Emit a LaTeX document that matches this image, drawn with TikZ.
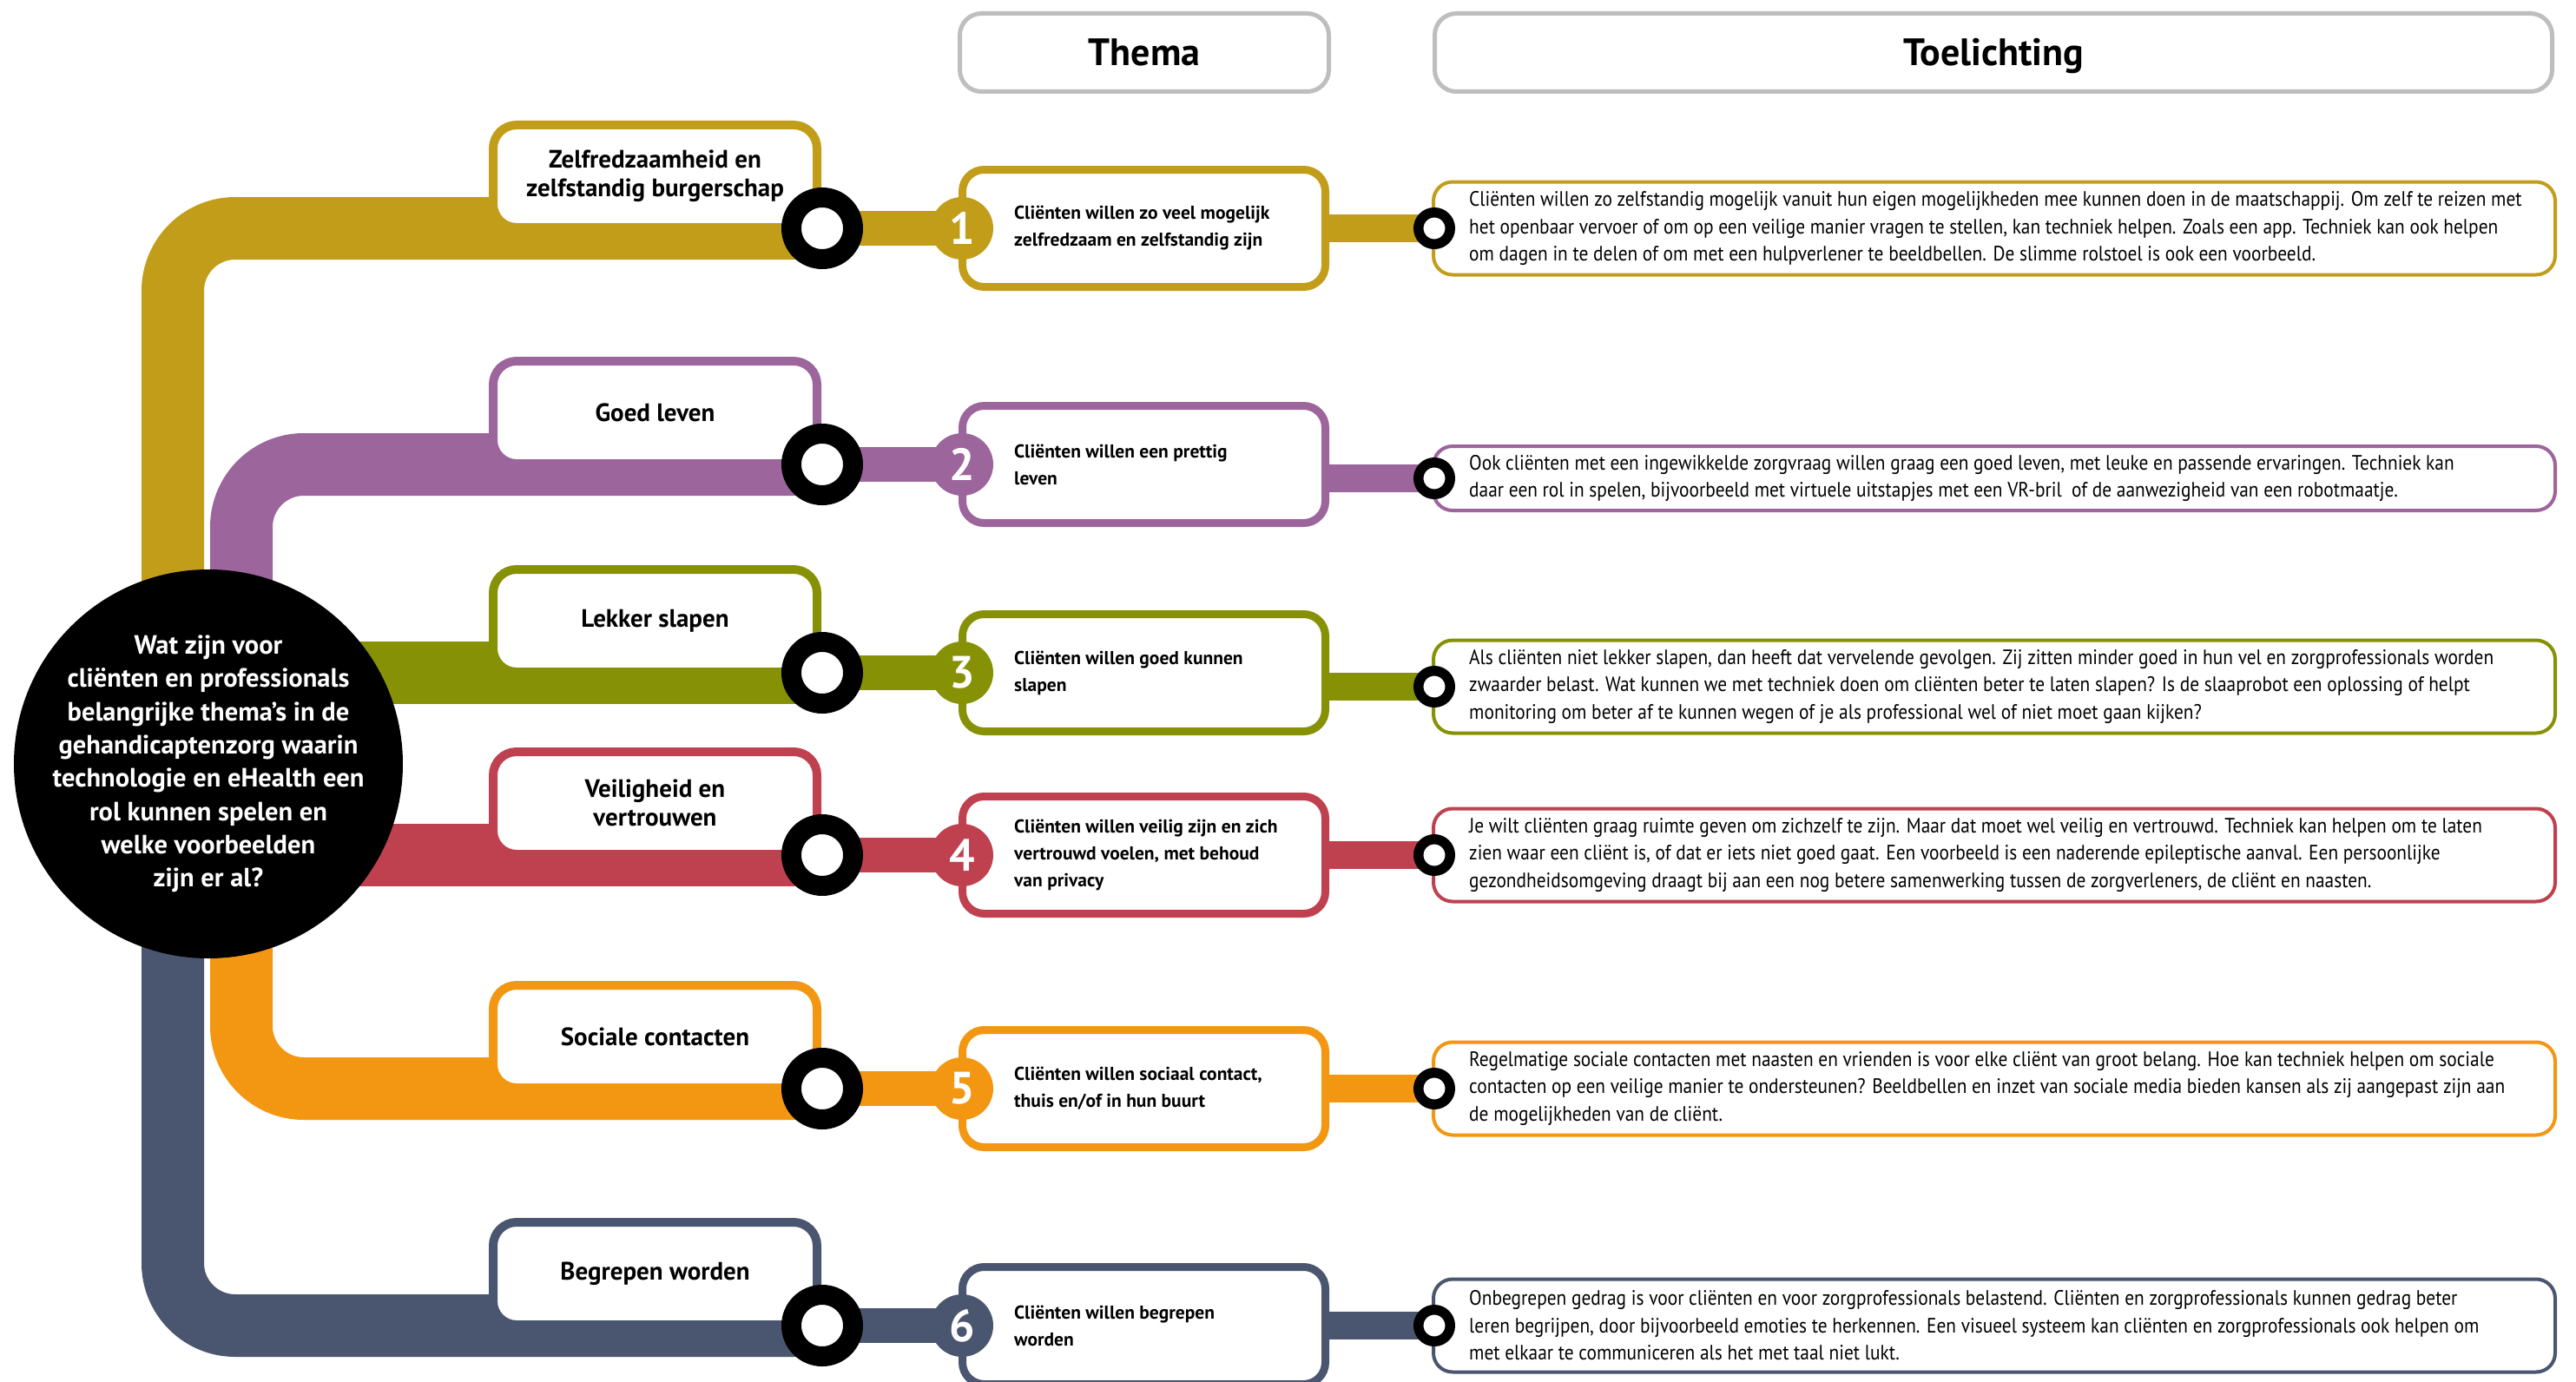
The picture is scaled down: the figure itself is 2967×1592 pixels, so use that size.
\documentclass[tikz,border=0pt]{standalone}
\usepackage{fontspec}
\setmainfont{PT Sans}[UprightFeatures={FakeStretch=0.89}]
\usetikzlibrary{backgrounds}
\definecolor{lijnGeel}{RGB}{194,157,26}
\definecolor{lijnPaars}{RGB}{156,101,156}
\definecolor{lijnOlijf}{RGB}{135,145,6}
\definecolor{lijnRood}{RGB}{191,65,80}
\definecolor{lijnOranje}{RGB}{243,150,18}
\definecolor{lijnBlauw}{RGB}{74,86,111}
\definecolor{kopGrijs}{RGB}{190,190,190}

\begin{document}
\begin{tikzpicture}[
  x=1pt, y=-1pt,
  rail/.style={line width=72pt, rounded corners=72pt},
  koppel/.style={line width=40pt},
  staart/.style={line width=32pt},
  vraag/.style={circle, fill=black, minimum size=448pt, inner sep=0pt},
  vraagtekst/.style={text=white, align=center, inner sep=0pt,
                     font=\bfseries\fontsize{30.5}{38.3}\selectfont},
  bordje/.style={draw, line width=10pt, fill=white, rounded corners=27pt, minimum width=373pt,
                 minimum height=118pt, outer sep=0pt, align=center,
                 font=\bfseries\fontsize{29}{33}\selectfont},
  halte/.style={circle, draw=black, line width=23pt, fill=white, minimum size=71pt, inner sep=0pt},
  nummer/.style={circle, minimum size=72pt, inner sep=0pt, text=white,
                 font=\bfseries\fontsize{52}{52}\selectfont},
  thema/.style={draw, line width=9pt, fill=white, rounded corners=25pt, minimum width=418pt,
                minimum height=135pt, outer sep=0pt},
  themtekst/.style={anchor=west, inner sep=0pt, align=left, font=\bfseries\fontsize{21.5}{31}\selectfont},
  stip/.style={circle, draw=black, line width=11.5pt, fill=white, minimum size=36.5pt, inner sep=0pt},
  uitleg/.style={draw, line width=4pt, fill=white, rounded corners=22pt, minimum width=1292pt,
                 minimum height=107pt, outer sep=0pt},
  uitlegtekst/.style={anchor=west, inner sep=0pt, align=left, font=\fontsize{24}{31.5}\selectfont},
  kop/.style={draw=kopGrijs, line width=5pt, fill=white, rounded corners=25pt, minimum height=90pt,
              text height=31pt, text depth=0pt, font=\bfseries\fontsize{44}{44}\selectfont}
]
\useasboundingbox (0,0) rectangle (2967,1592);

% ---- koppen ----
\node[kop, minimum width=425pt]  (kopThema) at (1318,60.5) {Thema};
\node[kop, minimum width=1287pt] (kopToel)  at (2296,60.5) {Toelichting};

% ---- de vraag in het midden ----
\node[vraag] (vraag) at (240,880) {};
\node[vraagtekst] (vraagtekst) at (vraag.center)
     {Wat zijn voor\\cliënten en professionals\\belangrijke thema’s in de\\gehandicaptenzorg waarin\\
      technologie en eHealth een\\rol kunnen spelen en\\welke voorbeelden\\zijn er al?};
\coordinate (spoorL) at (199,880);
\coordinate (spoorR) at (278,880);

% ---- 1 : zelfredzaamheid ----
\node[bordje, draw=lijnGeel] (bord1) at (754.5,203) {Zelfredzaamheid en\\zelfstandig burgerschap};
\node[halte] (halte1) at (947,263) {};
\node[thema, draw=lijnGeel] (th1) at (1317.5,263) {};
\node[nummer, fill=lijnGeel] (nr1) at (1108,263) {1};
\node[themtekst] (th1t) at ([xshift=59.5pt]th1.west) {Cliënten willen zo veel mogelijk\\zelfredzaam en zelfstandig zijn};
\node[uitleg, draw=lijnGeel] (tl1) at (2297,263) {};
\node[stip] (stip1) at (1652,263) {};
\node[uitlegtekst] (tl1t) at ([xshift=41pt]tl1.west)
     {Cliënten willen zo zelfstandig mogelijk vanuit hun eigen mogelijkheden mee kunnen doen in de maatschappij. Om zelf te reizen met\\
      het openbaar vervoer of om op een veilige manier vragen te stellen, kan techniek helpen. Zoals een app. Techniek kan ook helpen\\
      om dagen in te delen of om met een hulpverlener te beeldbellen. De slimme rolstoel is ook een voorbeeld.};

% ---- 2 : goed leven ----
\node[bordje, draw=lijnPaars] (bord2) at (754.5,475) {Goed leven};
\node[halte] (halte2) at (947,535) {};
\node[thema, draw=lijnPaars] (th2) at (1317.5,535) {};
\node[nummer, fill=lijnPaars] (nr2) at (1108,535) {2};
\node[themtekst] (th2t) at ([xshift=59.5pt]th2.west) {Cliënten willen een prettig\\leven};
\node[uitleg, draw=lijnPaars, minimum height=74pt] (tl2) at (2297,551) {};
\node[stip] (stip2) at (1652,551) {};
\node[uitlegtekst] (tl2t) at ([xshift=41pt]tl2.west)
     {Ook cliënten met een ingewikkelde zorgvraag willen graag een goed leven, met leuke en passende ervaringen. Techniek kan\\
      daar een rol in spelen, bijvoorbeeld met virtuele uitstapjes met een VR-bril~ of de aanwezigheid van een robotmaatje.};

% ---- 3 : lekker slapen ----
\node[bordje, draw=lijnOlijf] (bord3) at (754.5,715) {Lekker slapen};
\node[halte] (halte3) at (947,775) {};
\node[thema, draw=lijnOlijf] (th3) at (1317.5,775) {};
\node[nummer, fill=lijnOlijf] (nr3) at (1108,775) {3};
\node[themtekst] (th3t) at ([xshift=59.5pt]th3.west) {Cliënten willen goed kunnen\\slapen};
\node[uitleg, draw=lijnOlijf] (tl3) at (2297,791) {};
\node[stip] (stip3) at (1652,791) {};
\node[uitlegtekst] (tl3t) at ([xshift=41pt]tl3.west)
     {Als cliënten niet lekker slapen, dan heeft dat vervelende gevolgen. Zij zitten minder goed in hun vel en zorgprofessionals worden\\
      zwaarder belast. Wat kunnen we met techniek doen om cliënten beter te laten slapen? Is de slaaprobot een oplossing of helpt\\
      monitoring om beter af te kunnen wegen of je als professional wel of niet moet gaan kijken?};

% ---- 4 : veiligheid ----
\node[bordje, draw=lijnRood] (bord4) at (754.5,925) {Veiligheid en\\vertrouwen};
\node[halte] (halte4) at (947,985) {};
\node[thema, draw=lijnRood] (th4) at (1317.5,985) {};
\node[nummer, fill=lijnRood] (nr4) at (1108,985) {4};
\node[themtekst] (th4t) at ([xshift=59.5pt]th4.west) {Cliënten willen veilig zijn en zich\\vertrouwd voelen, met behoud\\van privacy};
\node[uitleg, draw=lijnRood] (tl4) at (2297,985) {};
\node[stip] (stip4) at (1652,985) {};
\node[uitlegtekst] (tl4t) at ([xshift=41pt]tl4.west)
     {Je wilt cliënten graag ruimte geven om zichzelf te zijn. Maar dat moet wel veilig en vertrouwd. Techniek kan helpen om te laten\\
      zien waar een cliënt is, of dat er iets niet goed gaat. Een voorbeeld is een naderende epileptische aanval. Een persoonlijke\\
      gezondheidsomgeving draagt bij aan een nog betere samenwerking tussen de zorgverleners, de cliënt en naasten.};

% ---- 5 : sociale contacten ----
\node[bordje, draw=lijnOranje] (bord5) at (754.5,1194) {Sociale contacten};
\node[halte] (halte5) at (947,1254) {};
\node[thema, draw=lijnOranje] (th5) at (1317.5,1254) {};
\node[nummer, fill=lijnOranje] (nr5) at (1108,1254) {5};
\node[themtekst] (th5t) at ([xshift=59.5pt]th5.west) {Cliënten willen sociaal contact,\\thuis en/of in hun buurt};
\node[uitleg, draw=lijnOranje] (tl5) at (2297,1254) {};
\node[stip] (stip5) at (1652,1254) {};
\node[uitlegtekst] (tl5t) at ([xshift=41pt]tl5.west)
     {Regelmatige sociale contacten met naasten en vrienden is voor elke cliënt van groot belang. Hoe kan techniek helpen om sociale\\
      contacten op een veilige manier te ondersteunen? Beeldbellen en inzet van sociale media bieden kansen als zij aangepast zijn aan\\
      de mogelijkheden van de cliënt.};

% ---- 6 : begrepen worden ----
\node[bordje, draw=lijnBlauw] (bord6) at (754.5,1467) {Begrepen worden};
\node[halte] (halte6) at (947,1527) {};
\node[thema, draw=lijnBlauw] (th6) at (1317.5,1527) {};
\node[nummer, fill=lijnBlauw] (nr6) at (1108,1527) {6};
\node[themtekst] (th6t) at ([xshift=59.5pt]th6.west) {Cliënten willen begrepen\\worden};
\node[uitleg, draw=lijnBlauw] (tl6) at (2297,1527) {};
\node[stip] (stip6) at (1652,1527) {};
\node[uitlegtekst] (tl6t) at ([xshift=41pt]tl6.west)
     {Onbegrepen gedrag is voor cliënten en voor zorgprofessionals belastend. Cliënten en zorgprofessionals kunnen gedrag beter\\
      leren begrijpen, door bijvoorbeeld emoties te herkennen. Een visueel systeem kan cliënten en zorgprofessionals ook helpen om\\
      met elkaar te communiceren als het met taal niet lukt.};

% ---- de lijnen, onder alles ----
\begin{scope}[on background layer]
  \fill[white] (0,0) rectangle (2967,1592);
  \draw[rail, lijnGeel]   (halte1.center) -| (spoorL);
  \draw[rail, lijnPaars]  (halte2.center) -| (spoorR);
  \draw[rail, lijnOlijf]  (halte3.center) -- (halte3 -| vraag.center);
  \draw[rail, lijnRood]   (halte4.center) -- (halte4 -| vraag.center);
  \draw[rail, lijnOranje] (halte5.center) -| (spoorR);
  \draw[rail, lijnBlauw]  (halte6.center) -| (spoorL);

  \draw[koppel, lijnGeel]   (halte1.center) -- (nr1.center);
  \draw[koppel, lijnPaars]  (halte2.center) -- (nr2.center);
  \draw[koppel, lijnOlijf]  (halte3.center) -- (nr3.center);
  \draw[koppel, lijnRood]   (halte4.center) -- (nr4.center);
  \draw[koppel, lijnOranje] (halte5.center) -- (nr5.center);
  \draw[koppel, lijnBlauw]  (halte6.center) -- (nr6.center);

  \draw[staart, lijnGeel]   (stip1.center) -- (stip1 -| th1.center);
  \draw[staart, lijnPaars]  (stip2.center) -- (stip2 -| th2.center);
  \draw[staart, lijnOlijf]  (stip3.center) -- (stip3 -| th3.center);
  \draw[staart, lijnRood]   (stip4.center) -- (stip4 -| th4.center);
  \draw[staart, lijnOranje] (stip5.center) -- (stip5 -| th5.center);
  \draw[staart, lijnBlauw]  (stip6.center) -- (stip6 -| th6.center);
\end{scope}

\end{tikzpicture}
\end{document}
